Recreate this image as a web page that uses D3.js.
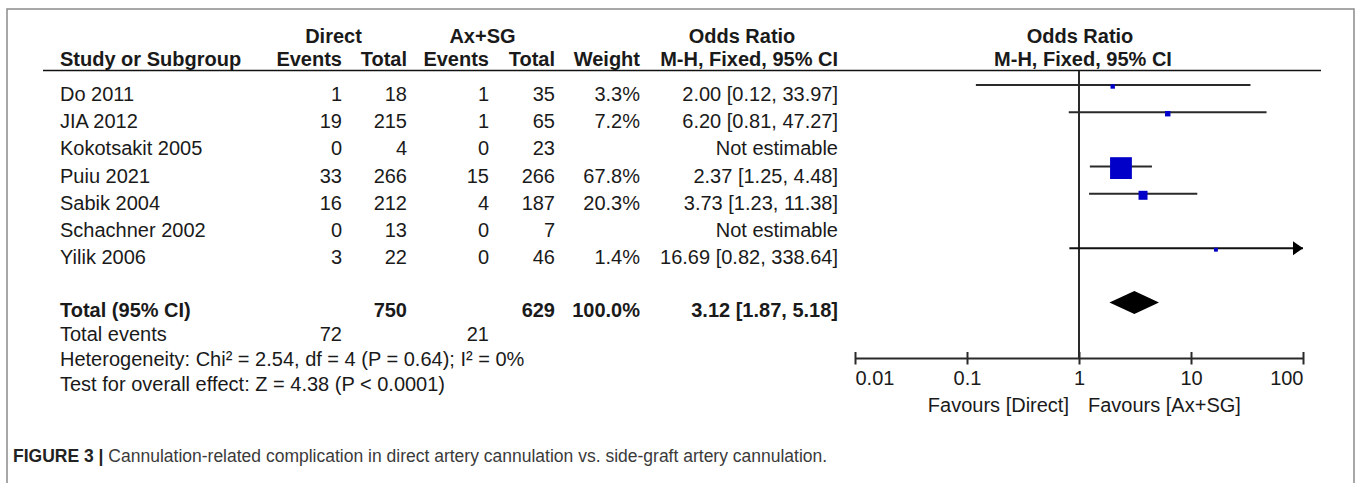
<!DOCTYPE html>
<html><head><meta charset="utf-8">
<script src="https://cdn.jsdelivr.net/npm/d3@7"></script>
<style>
html,body{margin:0;padding:0;background:#fff;}
svg{display:block;font-family:"Liberation Sans",Arial,sans-serif;}
</style></head>
<body>
<svg id="chart" width="1357" height="483"></svg>
<script>
// ---- data ----
const studies = ["Do 2011","JIA 2012","Kokotsakit 2005","Puiu 2021","Sabik 2004","Schachner 2002","Yilik 2006"];
const directEvents = [1,19,0,33,16,0,3];
const directTotal = [18,215,4,266,212,13,22];
const axEvents = [1,1,0,15,4,0,0];
const axTotal = [35,65,23,266,187,7,46];
const weights = [3.3,7.2,null,67.8,20.3,null,1.4];
const oddsRatio = [2.00,6.20,null,2.37,3.73,null,16.69];
const ciLower = [0.12,0.81,null,1.25,1.23,null,0.82];
const ciUpper = [33.97,47.27,null,4.48,11.38,null,338.64];
const totalDirect = 750, totalAx = 629, totalWeight = 100.0;
const pooledOR = 3.12, pooledLower = 1.87, pooledUpper = 5.18;
const totalEventsDirect = 72, totalEventsAx = 21;
const heterogeneityText = "Heterogeneity: Chi\u00B2 = 2.54, df = 4 (P = 0.64); I\u00B2 = 0%";
const overallText = "Test for overall effect: Z = 4.38 (P < 0.0001)";
const axisTicks = [0.01,0.1,1,10,100];
const favoursLeft = "Favours [Direct]", favoursRight = "Favours [Ax+SG]";
const captionBold = "FIGURE 3 |";
const captionText = " Cannulation-related complication in direct artery cannulation vs. side-graft artery cannulation.";

// ---- drawing ----
const svg = d3.select("#chart");
const ink = "#1a1a1a", lineCol = "#2a2a2a";
const f2 = d3.format(".2f"), f1 = d3.format(".1f");

const x = d3.scaleLog().domain([0.01,100]).range([855,1303]);
const rowY = d3.scaleLinear().domain([0,1]).range([85,112.2]);  // forest line y by row index
const boxSize = d3.scaleLinear().domain([0,100]).range([3.5,30.5]);

// frame
svg.append("rect").attr("x",7).attr("y",9).attr("width",1347).attr("height",500)
  .attr("fill","none").attr("stroke","#8a8a8a").attr("stroke-width",1.5);

const T = svg.append("g").attr("font-size",20).attr("fill",ink);

// column right edges
const cols = {dEv:342, dTot:407, aEv:489, aTot:555, wt:640, ci:838};

// header row 1
T.append("text").attr("x",333.5).attr("y",43).attr("text-anchor","middle").attr("font-weight","bold").text("Direct");
T.append("text").attr("x",482.5).attr("y",43).attr("text-anchor","middle").attr("font-weight","bold").text("Ax+SG");
T.append("text").attr("x",742).attr("y",43).attr("text-anchor","middle").attr("font-weight","bold").text("Odds Ratio");
T.append("text").attr("x",1080).attr("y",43).attr("text-anchor","middle").attr("font-weight","bold").text("Odds Ratio");
// header row 2
const h2 = [["Study or Subgroup",60,"start"],["Events",cols.dEv,"end"],["Total",cols.dTot,"end"],
  ["Events",cols.aEv,"end"],["Total",cols.aTot,"end"],["Weight",cols.wt,"end"],["M-H, Fixed, 95% CI",cols.ci,"end"]];
h2.forEach(d=>T.append("text").attr("x",d[1]).attr("y",66).attr("text-anchor",d[2]).attr("font-weight","bold").text(d[0]));
T.append("text").attr("x",1083).attr("y",66).attr("text-anchor","middle").attr("font-weight","bold").text("M-H, Fixed, 95% CI");
svg.append("line").attr("x1",43).attr("x2",1321).attr("y1",70.5).attr("y2",70.5).attr("stroke","#111").attr("stroke-width",1.6);

// study rows
studies.forEach((s,i)=>{
  const by = rowY(i)+16;
  T.append("text").attr("x",60).attr("y",by).text(s);
  T.append("text").attr("x",cols.dEv).attr("y",by).attr("text-anchor","end").text(directEvents[i]);
  T.append("text").attr("x",cols.dTot).attr("y",by).attr("text-anchor","end").text(directTotal[i]);
  T.append("text").attr("x",cols.aEv).attr("y",by).attr("text-anchor","end").text(axEvents[i]);
  T.append("text").attr("x",cols.aTot).attr("y",by).attr("text-anchor","end").text(axTotal[i]);
  if (weights[i]!=null) T.append("text").attr("x",cols.wt).attr("y",by).attr("text-anchor","end").text(f1(weights[i])+"%");
  const ciTxt = oddsRatio[i]!=null ? `${f2(oddsRatio[i])} [${f2(ciLower[i])}, ${f2(ciUpper[i])}]` : "Not estimable";
  T.append("text").attr("x",cols.ci).attr("y",by).attr("text-anchor","end").text(ciTxt);
});

// total row
const totIdx = 8;
const tby = rowY(totIdx)+14.5;
const TB = T.append("g").attr("font-weight","bold");
TB.append("text").attr("x",60).attr("y",tby).text("Total (95% CI)");
TB.append("text").attr("x",cols.dTot).attr("y",tby).attr("text-anchor","end").text(totalDirect);
TB.append("text").attr("x",cols.aTot).attr("y",tby).attr("text-anchor","end").text(totalAx);
TB.append("text").attr("x",cols.wt).attr("y",tby).attr("text-anchor","end").text(f1(totalWeight)+"%");
TB.append("text").attr("x",cols.ci).attr("y",tby).attr("text-anchor","end").text(`${f2(pooledOR)} [${f2(pooledLower)}, ${f2(pooledUpper)}]`);

// footer lines
T.append("text").attr("x",60).attr("y",341).text("Total events");
T.append("text").attr("x",cols.dEv).attr("y",341).attr("text-anchor","end").text(totalEventsDirect);
T.append("text").attr("x",cols.aEv).attr("y",341).attr("text-anchor","end").text(totalEventsAx);
T.append("text").attr("x",60).attr("y",366).text(heterogeneityText);
T.append("text").attr("x",60).attr("y",391).text(overallText);

// forest plot
const P = svg.append("g");
// null line
P.append("line").attr("x1",x(1)).attr("x2",x(1)).attr("y1",71).attr("y2",358)
  .attr("stroke",lineCol).attr("stroke-width",2);

studies.forEach((s,i)=>{
  if (oddsRatio[i]==null) return;
  const y = rowY(i);
  const [lo,hi] = x.domain();
  const clipped = ciUpper[i] > hi;
  const x2 = x(Math.min(ciUpper[i],hi));
  const ln = P.append("line").attr("x1",x(Math.max(ciLower[i],lo))).attr("x2",x2)
    .attr("y1",y).attr("y2",y).attr("stroke",lineCol).attr("stroke-width",2);
  if (clipped) {
    ln.attr("stroke","#111");
    P.append("path").attr("d",`M${x2-10},${y-7}L${x2},${y}L${x2-10},${y+7}Z`).attr("fill","#000");
  }
  const sz = boxSize(weights[i]);
  P.append("rect").attr("x",x(oddsRatio[i])-sz/2).attr("y",y+1.5-sz/2)
    .attr("width",sz).attr("height",sz).attr("fill","#0000c8");
});

// diamond
const dy = rowY(totIdx);
P.append("path").attr("d",`M${x(pooledLower)},${dy}L${x(pooledOR)},${dy-11.5}L${x(pooledUpper)},${dy}L${x(pooledOR)},${dy+11.5}Z`)
  .attr("fill","#000");

// axis
const axisY = 358.5;
const ax = P.append("g").attr("transform",`translate(0,${axisY})`)
  .call(d3.axisBottom(x).tickValues(axisTicks).tickSizeOuter(0).tickFormat(d=>String(d)));
ax.select(".domain").attr("stroke",lineCol).attr("stroke-width",2).attr("d",`M${x(0.01)},0H${x(100)}`);
ax.selectAll(".tick line").attr("y1",-6.5).attr("y2",6).attr("stroke",lineCol).attr("stroke-width",2);
ax.selectAll(".tick text").attr("y",26.5).attr("dy",0).attr("font-size",20)
  .attr("font-family","'Liberation Sans',Arial,sans-serif").attr("fill",ink)
  .attr("text-anchor",(d,i,n)=> i===0?"start":(i===n.length-1?"end":"middle"));
T.append("text").attr("x",x(1)-10).attr("y",412).attr("text-anchor","end").text(favoursLeft);
T.append("text").attr("x",x(1)+9).attr("y",412).attr("text-anchor","start").text(favoursRight);

// caption
const cap = svg.append("text").attr("x",13).attr("y",462).attr("font-size",17.5).attr("fill","#3a3a3a");
cap.append("tspan").attr("font-weight","bold").attr("fill","#222").text(captionBold);
cap.append("tspan").text(captionText);
</script>
</body></html>
